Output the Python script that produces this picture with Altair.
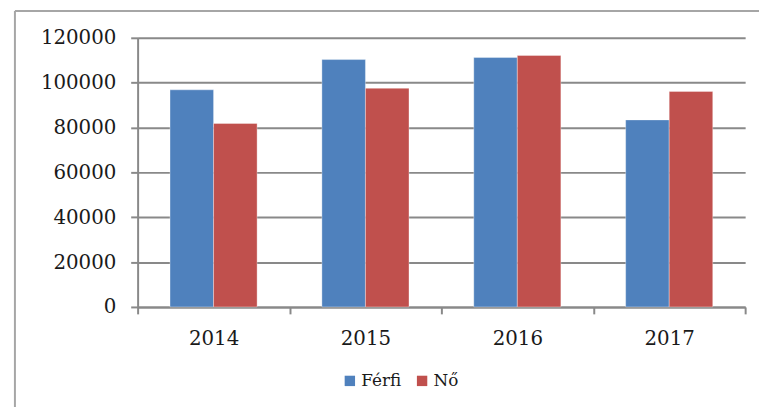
import altair as alt
import pandas as pd

years = ["2014", "2015", "2016", "2017"]
ferfi = [96800, 110300, 111200, 83400]
no = [81800, 97500, 112100, 96100]
series = ["Férfi", "Nő"]
colors = ["#4F81BD", "#C0504D"]
y_ticks = [0, 20000, 40000, 60000, 80000, 100000, 120000]

rows = []
for i, y in enumerate(years):
    rows.append({"year": y, "sex": series[0], "value": ferfi[i]})
    rows.append({"year": y, "sex": series[1], "value": no[i]})
df = pd.DataFrame(rows)

FONT = "DejaVu Serif"
GRAY = "#898989"

bars = alt.Chart(df).mark_bar(stroke="#ffffff", strokeOpacity=0.35, strokeWidth=1).encode(
    x=alt.X("year:N", sort=years, title=None,
            scale=alt.Scale(paddingInner=0, paddingOuter=0),
            axis=alt.Axis(labelAngle=0, tickBand="extent", grid=False, domainColor=GRAY,
                          domainWidth=2, tickColor=GRAY, tickWidth=2, tickSize=7,
                          labelPadding=15, labelFont=FONT, labelFontSize=20,
                          labelColor="#1a1a1a")),
    xOffset=alt.XOffset("sex:N", sort=series,
                        scale=alt.Scale(paddingInner=0, paddingOuter=0.744)),
    y=alt.Y("value:Q", title=None,
            scale=alt.Scale(domain=[0, 120000], nice=False),
            axis=alt.Axis(values=y_ticks, format="d", grid=True, gridColor=GRAY,
                          gridWidth=2, domainColor=GRAY, domainWidth=2, tickColor=GRAY,
                          tickWidth=2, tickSize=7, labelPadding=15, labelFont=FONT,
                          labelFontSize=20, labelColor="#1a1a1a")),
    color=alt.Color("sex:N", sort=series,
                    scale=alt.Scale(domain=series, range=colors),
                    legend=alt.Legend(title=None, orient="none", direction="horizontal",
                                      legendX=206, legendY=338, symbolType="square",
                                      symbolSize=110, symbolStrokeWidth=0,
                                      labelFont=FONT, labelFontSize=17,
                                      labelColor="#1a1a1a", labelOffset=3,
                                      columnPadding=12)),
)

frame_top = alt.Chart(pd.DataFrame({"k": [0]})).mark_rule(color="#a6a6a6", strokeWidth=2).encode(
    x=alt.value(-124), x2=alt.value(640), y=alt.value(-27))
frame_left = alt.Chart(pd.DataFrame({"k": [0]})).mark_rule(color="#a6a6a6", strokeWidth=2).encode(
    x=alt.value(-124), y=alt.value(-27), y2=alt.value(380))

chart = alt.layer(frame_top, frame_left, bars).properties(
    width=614, height=272,
    autosize=alt.AutoSizeParams(type="none"),
    padding={"left": 131, "top": 28, "right": 14, "bottom": 99},
    background="white",
).configure_view(stroke=None)

chart.save("out.html", embed_options={"renderer": "svg", "actions": False})
